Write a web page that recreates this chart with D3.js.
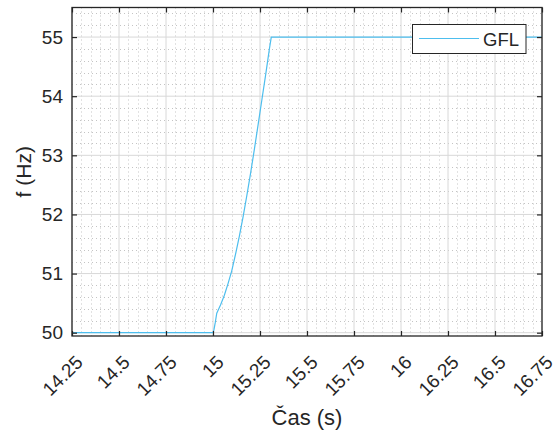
<!DOCTYPE html>
<html><head><meta charset="utf-8">
<script src="https://cdn.jsdelivr.net/npm/d3@7"></script>
<style>
body{margin:0;background:#fff;}
text{font-family:"Liberation Sans",Arial,Helvetica,sans-serif;fill:#262626;}
</style></head>
<body><svg id="c" width="558" height="430"></svg>
<script>
const timeS = [14.25, 15.0, 15.005, 15.012, 15.02, 15.04, 15.06, 15.08, 15.10, 15.12, 15.14, 15.16, 15.18, 15.20, 15.22, 15.24, 15.26, 15.28, 15.30, 15.31, 16.75];
const freqHz = [50, 50, 50.05, 50.17, 50.33, 50.47, 50.63, 50.83, 51.05, 51.33, 51.63, 51.96, 52.32, 52.70, 53.10, 53.52, 53.94, 54.36, 54.80, 55.0, 55.0];
const xTicks = [14.25, 14.5, 14.75, 15, 15.25, 15.5, 15.75, 16, 16.25, 16.5, 16.75];
const xTickLabels = ["14.25","14.5","14.75","15","15.25","15.5","15.75","16","16.25","16.5","16.75"];
const yTicks = [50, 51, 52, 53, 54, 55];
const seriesName = "GFL";
const xLabel = "Čas (s)";
const yLabel = "f (Hz)";

const L = 72, R = 542, T = 7.5, B = 336;
const svg = d3.select("#c");
const x = d3.scaleLinear().domain([14.25, 16.75]).range([L, R]);
const y = d3.scaleLinear().domain([49.944, 55.5]).range([B, T]);

// minor grid
const xMinor = d3.range(0, 51).map(i => 14.25 + i * 0.05).filter(v => !xTicks.some(t => Math.abs(t - v) < 1e-6));
const yMinor = d3.range(0, 28).map(i => 50 + i * 0.2).filter(v => v < 55.5 && !yTicks.some(t => Math.abs(t - v) < 1e-6));
const g = svg.append("g");
g.selectAll(".xm").data(xMinor).enter().append("line")
  .attr("x1", d => Math.round(x(d)) + 0.5).attr("x2", d => Math.round(x(d)) + 0.5)
  .attr("y1", T).attr("y2", B).attr("stroke", "#c4c4c4").attr("stroke-width", 1).attr("stroke-dasharray", "1,3");
g.selectAll(".ym").data(yMinor).enter().append("line")
  .attr("y1", d => Math.round(y(d)) + 0.5).attr("y2", d => Math.round(y(d)) + 0.5)
  .attr("x1", L).attr("x2", R).attr("stroke", "#c4c4c4").attr("stroke-width", 1).attr("stroke-dasharray", "1,3");
// major grid
g.selectAll(".xg").data(xTicks).enter().append("line")
  .attr("x1", d => x(d)).attr("x2", d => x(d)).attr("y1", T).attr("y2", B)
  .attr("stroke", "#d8d8d8").attr("stroke-width", 1);
g.selectAll(".yg").data(yTicks).enter().append("line")
  .attr("y1", d => y(d)).attr("y2", d => y(d)).attr("x1", L).attr("x2", R)
  .attr("stroke", "#d8d8d8").attr("stroke-width", 1);

// data line
const pts = timeS.map((t, i) => [t, freqHz[i]]);
svg.append("path").datum(pts)
  .attr("d", d3.line().x(d => x(d[0])).y(d => y(d[1])))
  .attr("fill", "none").attr("stroke", "#4DBEEE").attr("stroke-width", 1.2);

// axes
const tl = 5;
const axB = d3.axisBottom(x).tickValues(xTicks).tickFormat((d, i) => xTickLabels[i]).tickSizeInner(-tl).tickSizeOuter(0);
const axL = d3.axisLeft(y).tickValues(yTicks).tickFormat(d3.format("d")).tickSizeInner(-tl).tickSizeOuter(0).tickPadding(9);
const axT = d3.axisTop(x).tickValues(xTicks).tickFormat("").tickSizeInner(-tl).tickSizeOuter(0);
const axR = d3.axisRight(y).tickValues(yTicks).tickFormat("").tickSizeInner(-tl).tickSizeOuter(0);

const gb = svg.append("g").attr("transform", `translate(0,${B})`).call(axB);
gb.selectAll("text").attr("font-size", 19).attr("text-anchor", "end")
  .attr("x", 0).attr("y", 0).attr("dy", 0)
  .attr("transform", `translate(11.5,27.5) rotate(-45)`);
const gl = svg.append("g").attr("transform", `translate(${L},0)`).call(axL);
gl.selectAll("text").attr("font-size", 19);
svg.append("g").attr("transform", `translate(0,${T})`).call(axT);
svg.append("g").attr("transform", `translate(${R},0)`).call(axR);
svg.selectAll(".domain").remove();
svg.selectAll(".tick line").attr("stroke", "#262626").attr("stroke-width", 1.2);
svg.selectAll(".tick text").style("fill", "#262626").attr("font-family", "Liberation Sans, Arial, sans-serif");

svg.append("rect").attr("x", L).attr("y", T).attr("width", R - L).attr("height", B - T)
  .attr("fill", "none").attr("stroke", "#262626").attr("stroke-width", 1.3);

// labels
svg.append("text").attr("x", (L + R) / 2).attr("y", 425).attr("text-anchor", "middle")
  .attr("font-size", 22).text(xLabel);
svg.append("text").attr("transform", `translate(31,${(T + B) / 2}) rotate(-90)`).attr("text-anchor", "middle")
  .attr("font-size", 21).text(yLabel);

// legend
const lg = svg.append("g");
lg.append("rect").attr("x", 412.5).attr("y", 24.5).attr("width", 113.5).attr("height", 29)
  .attr("fill", "#fff").attr("stroke", "#262626").attr("stroke-width", 1);
lg.append("line").attr("x1", 419).attr("x2", 479).attr("y1", 38.5).attr("y2", 38.5)
  .attr("stroke", "#4DBEEE").attr("stroke-width", 1.2);
lg.append("text").attr("x", 483).attr("y", 45.5).attr("font-size", 18.5).text(seriesName);
</script></body></html>
